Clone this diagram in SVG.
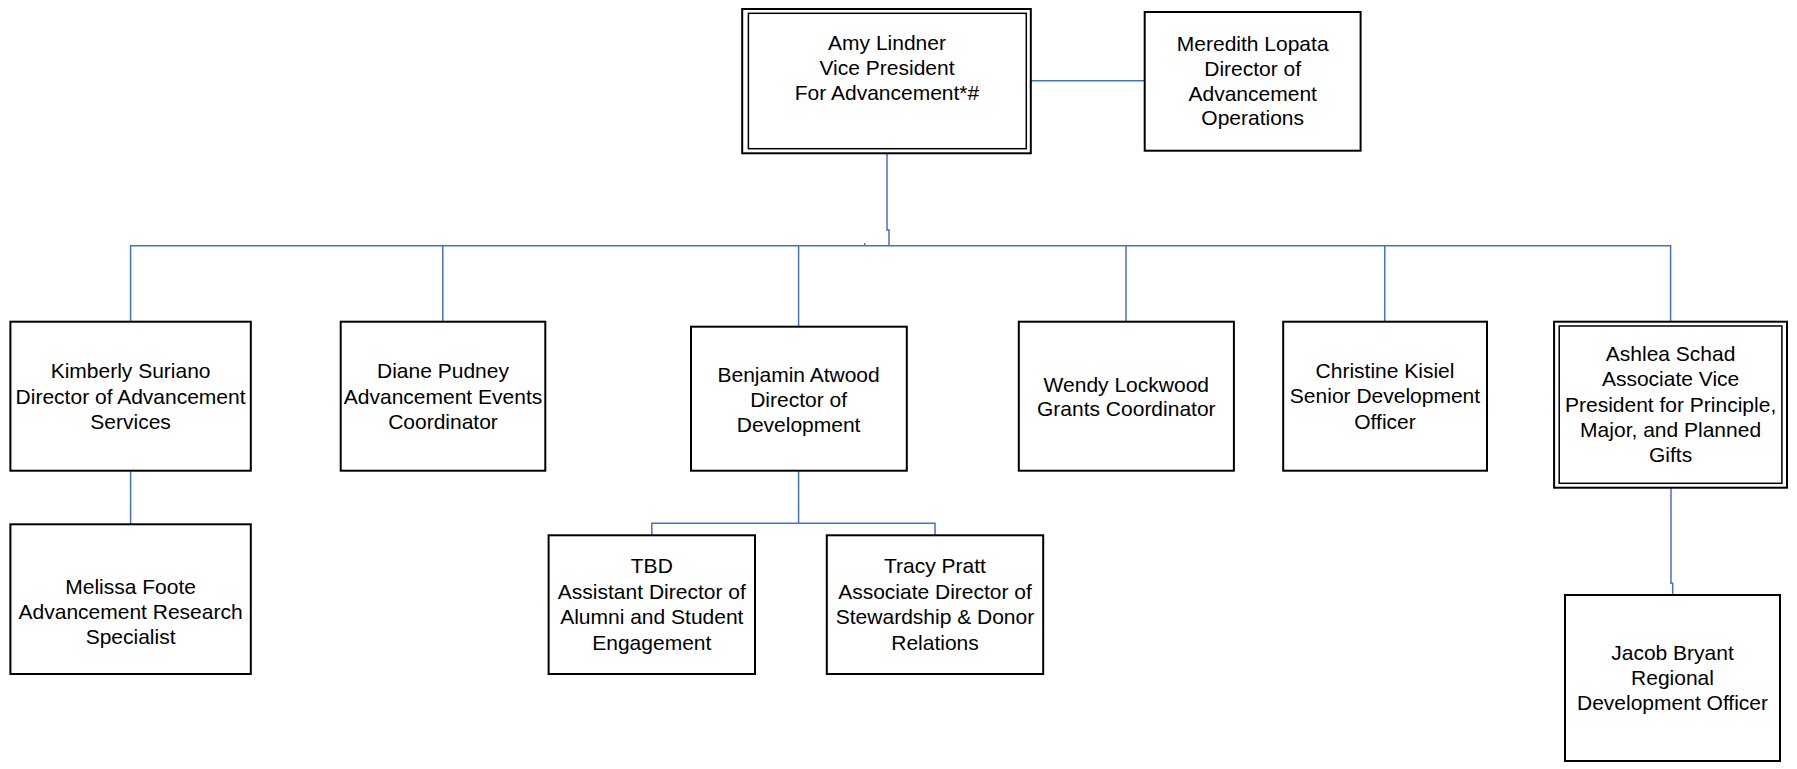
<svg xmlns="http://www.w3.org/2000/svg" width="1797" height="769" viewBox="0 0 1797 769">
<style>
.box{fill:#fff;stroke:#000;stroke-width:2}
.inner{fill:none;stroke:#000;stroke-width:1.5}
.ln{fill:none;stroke:#4472C4;stroke-width:1.5}
text{font-family:"Liberation Sans",Arial,sans-serif;font-size:21px;fill:#000;text-anchor:middle}
</style>
<rect width="1797" height="769" fill="#fff"/>
<g id="connectors">
<path class="ln" d="M887 153 V230 H889 V246"/>
<path class="ln" d="M1031 80.7 H1145"/>
<path class="ln" d="M130.6 321.7 V245.7 H1670.6 V321.7"/>
<path class="ln" d="M442.8 245.7 V321.7"/>
<path class="ln" d="M798.6 245.7 V326.7"/>
<path class="ln" d="M1126 245.7 V321.7"/>
<path class="ln" d="M1384.8 245.7 V321.7"/>
<path class="ln" d="M864.7 243 V245.7"/>
<path class="ln" d="M130.6 470.7 V524.3"/>
<path class="ln" d="M798.6 470.7 V523.3 M651.8 535.3 V523.3 H935 V535.3"/>
<path class="ln" d="M1671 487.7 V583.3 H1672.7 V595"/>
</g>
<g id="amy">
<rect class="box" x="742.2" y="9" width="288.6" height="144.3"/>
<rect class="inner" x="748.4" y="13.3" width="277.9" height="135.4"/>
<text x="887" y="50">Amy Lindner</text>
<text x="887" y="75">Vice President</text>
<text x="887" y="100">For Advancement*#</text>
</g>
<g id="meredith">
<rect class="box" x="1144.7" y="12" width="215.9" height="138.7"/>
<text x="1252.7" y="50.7">Meredith Lopata</text>
<text x="1252.7" y="75.7">Director of</text>
<text x="1252.7" y="100.7">Advancement</text>
<text x="1252.7" y="125.4">Operations</text>
</g>
<g id="kimberly">
<rect class="box" x="10.4" y="321.7" width="240.4" height="149"/>
<text x="130.6" y="378.3">Kimberly Suriano</text>
<text x="130.6" y="403.8">Director of Advancement</text>
<text x="130.6" y="429">Services</text>
</g>
<g id="diane">
<rect class="box" x="340.7" y="321.7" width="204.6" height="149"/>
<text x="443" y="378.3">Diane Pudney</text>
<text x="443" y="403.8">Advancement Events</text>
<text x="443" y="429">Coordinator</text>
</g>
<g id="benjamin">
<rect class="box" x="691" y="326.7" width="215.8" height="144"/>
<text x="798.6" y="381.7">Benjamin Atwood</text>
<text x="798.6" y="406.7">Director of</text>
<text x="798.6" y="431.7">Development</text>
</g>
<g id="wendy">
<rect class="box" x="1018.8" y="321.7" width="215.1" height="149"/>
<text x="1126.3" y="391.7">Wendy Lockwood</text>
<text x="1126.3" y="416.3">Grants Coordinator</text>
</g>
<g id="christine">
<rect class="box" x="1283.2" y="321.7" width="203.8" height="149"/>
<text x="1385" y="377.7">Christine Kisiel</text>
<text x="1385" y="403.3">Senior Development</text>
<text x="1385" y="429">Officer</text>
</g>
<g id="ashlea">
<rect class="box" x="1554.1" y="321.7" width="232.9" height="166"/>
<rect class="inner" x="1559.2" y="326" width="222.7" height="157.3"/>
<text x="1670.6" y="361">Ashlea Schad</text>
<text x="1670.6" y="386.3">Associate Vice</text>
<text x="1670.6" y="411.7">President for Principle,</text>
<text x="1670.6" y="437.3">Major, and Planned</text>
<text x="1670.6" y="462.3">Gifts</text>
</g>
<g id="melissa">
<rect class="box" x="10.4" y="524.3" width="240.4" height="149.7"/>
<text x="130.6" y="594.3">Melissa Foote</text>
<text x="130.6" y="619.3">Advancement Research</text>
<text x="130.6" y="644.3">Specialist</text>
</g>
<g id="tbd">
<rect class="box" x="548.6" y="535.3" width="206.4" height="138.7"/>
<text x="651.8" y="573.3">TBD</text>
<text x="651.8" y="598.5">Assistant Director of</text>
<text x="651.8" y="624">Alumni and Student</text>
<text x="651.8" y="649.5">Engagement</text>
</g>
<g id="tracy">
<rect class="box" x="826.8" y="535.3" width="216.4" height="138.7"/>
<text x="935" y="573.3">Tracy Pratt</text>
<text x="935" y="598.5">Associate Director of</text>
<text x="935" y="624">Stewardship &amp; Donor</text>
<text x="935" y="649.5">Relations</text>
</g>
<g id="jacob">
<rect class="box" x="1565" y="595" width="215" height="166"/>
<text x="1672.5" y="660.3">Jacob Bryant</text>
<text x="1672.5" y="685">Regional</text>
<text x="1672.5" y="710">Development Officer</text>
</g>
</svg>
